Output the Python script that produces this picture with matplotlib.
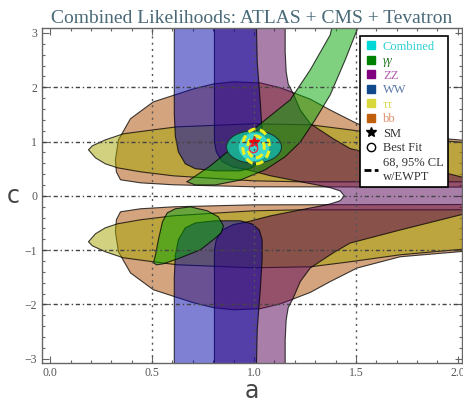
import matplotlib
matplotlib.use("Agg")
import matplotlib.pyplot as plt
from matplotlib.patches import Polygon, Ellipse
from matplotlib.lines import Line2D

# contour outlines, as (a, c) pairs
bb_hi = [(0.345, 0.295), (0.443, 0.239), (0.604, 0.203), (0.997, 0.166), (2.1, 0.16),
         (2.1, 1.0), (1.717, 1.123), (1.506, 1.33), (1.374, 1.58), (1.276, 1.78),
         (1.193, 1.9), (1.129, 1.99), (1.031, 2.08), (0.899, 2.10), (0.801, 2.06),
         (0.703, 1.97), (0.506, 1.73), (0.394, 1.42), (0.335, 1.03), (0.32, 0.66),
         (0.325, 0.44)]
bb_lo = [(0.345, -0.295), (0.443, -0.239), (0.604, -0.203), (0.997, -0.166), (2.1, -0.16),
         (2.1, -1.0), (1.717, -1.123), (1.506, -1.33), (1.374, -1.58), (1.276, -1.78),
         (1.193, -1.9), (1.129, -1.99), (1.031, -2.08), (0.899, -2.10), (0.801, -2.06),
         (0.703, -1.97), (0.506, -1.73), (0.394, -1.42), (0.335, -1.03), (0.32, -0.66),
         (0.325, -0.44)]

tautau_hi = [(0.188, 0.847), (0.222, 0.70), (0.271, 0.589), (0.33, 0.516), (0.443, 0.442),
             (0.604, 0.368), (0.835, 0.313), (0.997, 0.276), (1.227, 0.258), (2.1, 0.258),
             (2.1, 0.958), (1.717, 1.087), (1.472, 1.215), (1.276, 1.308), (0.997, 1.326),
             (0.624, 1.271), (0.506, 1.215), (0.359, 1.142), (0.271, 1.031), (0.207, 0.921)]
tautau_lo = [(0.188, -0.847), (0.222, -0.70), (0.271, -0.589), (0.33, -0.516), (0.443, -0.442),
             (0.604, -0.368), (0.835, -0.313), (0.997, -0.276), (1.227, -0.258), (2.1, -0.258),
             (2.1, -0.958), (1.717, -1.087), (1.472, -1.215), (1.276, -1.308), (0.997, -1.326),
             (0.624, -1.271), (0.506, -1.215), (0.359, -1.142), (0.271, -1.031), (0.207, -0.921)]

ww_hi = [(0.609, 3.3), (0.609, 1.50), (0.614, 1.10), (0.629, 0.81), (0.663, 0.59),
         (0.712, 0.50), (0.81, 0.46), (0.933, 0.46), (0.992, 0.52), (1.026, 0.63),
         (1.04, 0.81), (1.04, 1.17), (1.031, 1.72), (1.016, 2.46), (1.011, 3.3)]
ww_lo = [(0.609, -3.3), (0.609, -1.50), (0.614, -1.10), (0.629, -0.81), (0.663, -0.59),
         (0.712, -0.50), (0.81, -0.46), (0.933, -0.46), (0.992, -0.52), (1.026, -0.63),
         (1.04, -0.81), (1.04, -1.17), (1.031, -1.72), (1.016, -2.46), (1.011, -3.3)]

zz = [(0.806, 3.3), (0.806, 0.99), (0.815, 0.81), (0.844, 0.63), (0.898, 0.53),
      (0.967, 0.48), (1.08, 0.37), (1.227, 0.26), (1.31, 0.20), (1.374, 0.15),
      (1.423, 0.09), (1.443, 0.0), (1.423, -0.09), (1.374, -0.15), (1.31, -0.20),
      (1.227, -0.26), (1.08, -0.37), (0.967, -0.48), (0.898, -0.53), (0.844, -0.63),
      (0.815, -0.81), (0.806, -0.99), (0.806, -3.3), (1.153, -3.3), (1.153, -2.65),
      (1.158, -2.28), (1.168, -2.06), (1.193, -1.88), (1.227, -1.58), (1.276, -1.33),
      (1.389, -1.05), (1.472, -0.87), (1.717, -0.63), (2.1, -0.27), (2.1, 0.27),
      (1.717, 0.63), (1.472, 0.87), (1.389, 1.05), (1.276, 1.33), (1.227, 1.58),
      (1.193, 1.88), (1.168, 2.06), (1.158, 2.28), (1.153, 2.65), (1.153, 3.3)]

gg_hi = [(0.678, 0.276), (0.786, 0.552), (0.899, 0.902), (1.031, 1.326), (1.178, 1.768),
         (1.276, 2.32), (1.374, 2.965), (1.394, 3.3), (1.511, 3.3), (1.506, 3.06),
         (1.447, 2.50), (1.374, 1.86), (1.30, 1.40), (1.227, 0.99), (1.153, 0.72),
         (1.055, 0.48), (0.933, 0.29), (0.81, 0.20), (0.712, 0.20), (0.669, 0.26)]
gg_lo = [(0.507, -1.234), (0.517, -1.087), (0.531, -0.81), (0.551, -0.479), (0.575, -0.313),
         (0.614, -0.239), (0.688, -0.203), (0.771, -0.276), (0.825, -0.387), (0.85, -0.553),
         (0.84, -0.681), (0.80, -0.81), (0.737, -0.994), (0.639, -1.142), (0.556, -1.252),
         (0.522, -1.271)]

# combined fit: (center a, center c, width, height)
comb95 = (1.0, 0.90, 0.27, 0.60)
comb68 = (1.0, 0.90, 0.15, 0.52)
ewpt95 = (1.01, 0.91, 0.13, 0.64)
ewpt68 = (1.01, 0.90, 0.08, 0.40)
sm_point = (1.0, 1.0)
best_fit = (0.997, 0.88)

fills = {
    "bb": "#aa4b00",
    "tautau": "#a5a500",
    "ww": "#0000aa",
    "zz": "#550055",
    "gg": "#00a500",
}

serif = "Liberation Serif"

fig = plt.figure(figsize=(4.64, 4.05), dpi=100)
ax = fig.add_axes([0.0905, 0.1037, 0.905, 0.827])

shapes = [(bb_hi, "bb"), (bb_lo, "bb"), (tautau_hi, "tautau"), (tautau_lo, "tautau"),
          (zz, "zz"), (ww_hi, "ww"), (ww_lo, "ww"), (gg_hi, "gg"), (gg_lo, "gg")]
for pts, key in shapes:
    ax.add_patch(Polygon(pts, closed=True, facecolor=fills[key], alpha=0.5,
                         edgecolor="none", zorder=2))
    ax.add_patch(Polygon(pts, closed=True, fill=False, edgecolor=(0, 0, 0, 0.75),
                         lw=0.8, zorder=2))

x0, y0, w, h = comb95
ax.add_patch(Ellipse((x0, y0), w, h, facecolor="#1aa890", edgecolor="#1a3a30",
                     lw=0.8, zorder=3))
x0, y0, w, h = comb68
ax.add_patch(Ellipse((x0, y0), w, h, facecolor="#3cd8cc", edgecolor="none", zorder=3))
for x0, y0, w, h in (ewpt95, ewpt68):
    ax.add_patch(Ellipse((x0, y0), w, h, fill=False, edgecolor="#f0f020",
                         lw=2.2, ls=(0, (2.5, 1.5)), zorder=4))
ax.plot(*sm_point, marker="*", color="red", ms=8, ls="", zorder=5)
ax.plot(*best_fit, marker="o", mfc="none", mec="#e03050", ms=6, mew=1, ls="", zorder=5)

ax.set_xlim(-0.04, 2.02)
ax.set_ylim(-3.08, 3.09)
ax.set_xticks([0.0, 0.5, 1.0, 1.5, 2.0])
ax.set_xticks([i / 10 for i in range(0, 21)], minor=True)
ax.set_yticks([-3, -2, -1, 0, 1, 2, 3])
ax.set_yticks([i / 5 for i in range(-15, 16)], minor=True)
ax.set_xticklabels(["0.0", "0.5", "1.0", "1.5", "2.0"])
ax.set_yticklabels(["\u22123", "\u22122", "\u22121", "0", "1", "2", "3"])
ax.tick_params(which="both", direction="in", top=True, right=True, colors="#666666",
               labelcolor="#555555", labelsize=8.5, width=0.8)
ax.tick_params(which="major", length=5)
ax.tick_params(which="minor", length=2.5)
ax.tick_params(axis="x", pad=3)
for s in ax.spines.values():
    s.set_color("#666666")
    s.set_linewidth(1.0)
for t in ax.get_xticklabels() + ax.get_yticklabels():
    t.set_family(serif)

for gx in [0.5, 1.0, 1.5]:
    ax.axvline(gx, color="#555555", lw=1.0, ls=(0, (1.5, 3)), zorder=6)
for gy in [-2, -1, 0, 1, 2]:
    ax.axhline(gy, color="#444444", lw=1.0, ls=(0, (3, 2, 1, 2)), zorder=6)

ax.set_xlabel("a", fontsize=17, color="#444444", labelpad=0)
ax.set_ylabel("c", fontsize=17, color="#444444", rotation=0, va="center", ha="center")
ax.yaxis.set_label_coords(-0.068, 0.5)
ax.set_title("Combined Likelihoods: ATLAS + CMS + Tevatron", fontsize=14,
             color="#4a6a78", family=serif, pad=4)

handles = [
    Line2D([], [], marker="s", color="#00d8d8", ls="", ms=5.5),
    Line2D([], [], marker="s", color="#008000", ls="", ms=5.5),
    Line2D([], [], marker="s", color="#800080", ls="", ms=5.5),
    Line2D([], [], marker="s", color="#104a8c", ls="", ms=5.5),
    Line2D([], [], marker="s", color="#d8d83c", ls="", ms=5.5),
    Line2D([], [], marker="s", color="#c0600c", ls="", ms=5.5),
    Line2D([], [], marker="*", color="black", ls="", ms=7),
    Line2D([], [], marker="o", mfc="none", mec="black", ls="", ms=6),
    Line2D([], [], color="black", ls=(0, (2.5, 1.2)), lw=2),
]
labels = ["Combined", "\u03b3\u03b3", "ZZ", "WW", "\u03c4\u03c4", "bb", "SM", "Best Fit",
          "68, 95% CL\nw/EWPT"]
text_colors = ["#2ed0d0", "#2a7a2a", "#b060b0", "#5a78a8", "#d8d850", "#e0906a",
               "#333333", "#333333", "#333333"]
leg = ax.legend(handles, labels, loc="upper left", bbox_to_anchor=(0.757, 0.975),
                frameon=True, fancybox=False, framealpha=1, edgecolor="black",
                handlelength=1.1, handletextpad=0.4, labelspacing=0.2, borderpad=0.35,
                borderaxespad=0, prop={"family": serif, "size": 9})
leg.get_frame().set_linewidth(1.2)
leg.set_zorder(10)
for t, col in zip(leg.get_texts(), text_colors):
    t.set_color(col)
leg.get_texts()[1].set_style("italic")

fig.savefig("out.png", dpi=100)
